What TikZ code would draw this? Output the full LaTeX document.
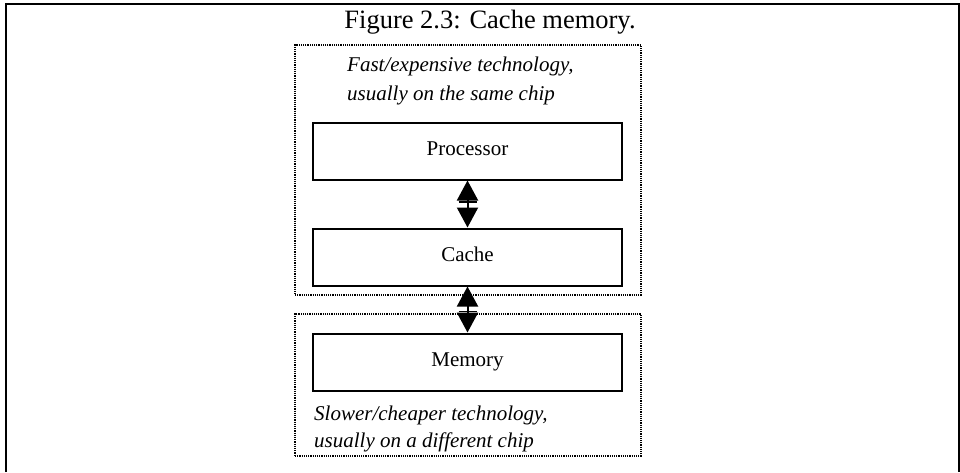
\documentclass[tikz,border=0pt]{standalone}
\usepackage{fontspec}
\setmainfont{Liberation Serif}
\usetikzlibrary{arrows.meta,calc}
\begin{document}
\begin{tikzpicture}[x=1pt,y=-1pt,
  frame/.style={line width=2pt},
  dotbox/.style={draw, line width=1.2pt, dash pattern=on 1.2pt off 1pt, rectangle, inner sep=0pt, minimum width=346pt},
  unitbox/.style={draw, line width=2pt, rectangle, inner sep=0pt, minimum width=309pt, minimum height=57pt, font=\fontsize{21pt}{25pt}\selectfont, text height=14pt, text depth=4.5pt},
  note/.style={anchor=base west, inner sep=0pt, font=\fontsize{21pt}{25pt}\selectfont\itshape},
  link/.style={line width=2pt, {Triangle[width=21pt,length=20pt]}-{Triangle[width=21pt,length=20pt]}},
  tick/.style={line width=1.3pt}
]
\useasboundingbox (0,0) rectangle (960,472);
% outer frame
\draw[frame] (6,472) -- (6,4) -- (958.5,4) -- (958.5,472);
% title
\node[anchor=base, inner sep=0pt, font=\fontsize{26.5pt}{31pt}\selectfont] (title) at (490,28) {Figure 2.3: Cache memory.};
% grouping boxes
\node[dotbox, minimum height=250pt] (fastgrp) at (468,170) {};
\node[dotbox, minimum height=142pt] (slowgrp) at (468,385) {};
% units
\node[unitbox] (proc) at (467.5,151) {Processor};
\node[unitbox] (cache) at (467.5,257) {Cache};
\node[unitbox] (mem) at (467.5,362) {Memory};
% notes
\node[note] (fast1) at (347,71) {Fast/expensive technology,};
\node[note] (fast2) at (347,100) {usually on the same chip};
\node[note] (slow1) at (314,420) {Slower/cheaper technology,};
\node[note] (slow2) at (314,447) {usually on a different chip};
% connectors
\draw[link] (proc.south) -- (cache.north);
\draw[link] (cache.south) -- (mem.north);
\draw[tick] ($(proc.south)!0.46!(cache.north)$) +(-9,0) -- +(9,0);
\draw[tick] ($(cache.south)!0.54!(mem.north)$) +(-9,0) -- +(9,0);
\end{tikzpicture}
\end{document}
